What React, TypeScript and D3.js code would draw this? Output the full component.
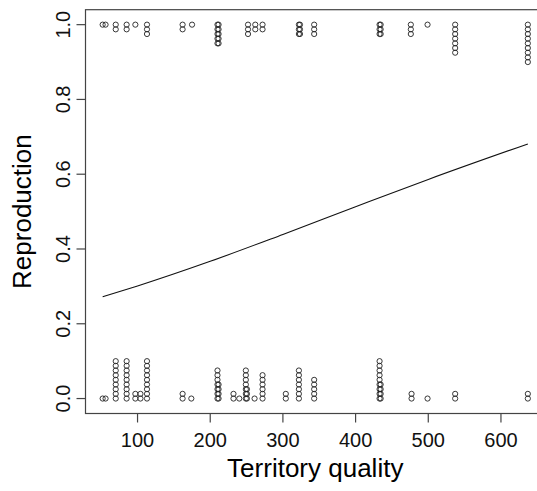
import React from "react";
import * as d3 from "d3";

// Territories where reproduction occurred (y = 1): quality value and number of stacked points
const successQuality = [52, 56, 70, 85, 97, 113, 162, 175, 210, 211.5, 252, 262, 272, 322, 323.5, 343, 433, 434.5, 476, 499, 537, 637];
const successCount = [1, 1, 2, 2, 1, 3, 2, 1, 5, 5, 3, 2, 2, 3, 3, 3, 3, 3, 3, 1, 7, 9];

// Territories without reproduction (y = 0)
const failQuality = [52, 56, 70, 85, 97, 104, 113, 162, 174, 210, 211.5, 232, 240, 249, 250.5, 261, 272, 304, 322, 343, 433, 434.5, 477, 499, 537, 637];
const failCount = [1, 1, 9, 9, 2, 2, 9, 2, 1, 7, 4, 2, 1, 7, 3, 1, 6, 2, 7, 5, 9, 4, 2, 1, 2, 2];

// Fitted curve
const curveX = [52, 100, 200, 300, 400, 500, 637];
const curveY = [0.272, 0.301, 0.367, 0.439, 0.513, 0.586, 0.681];

const xTicks = [100, 200, 300, 400, 500, 600];
const yTicks = [0, 0.2, 0.4, 0.6, 0.8, 1.0];
const stackStep = 0.0125;

export default function App() {
  const W = 537, H = 491;
  const left = 85.5, right = 545, top = 9.7, bottom = 413.5;
  const x = d3.scaleLinear().domain([28.4, 660.6]).range([left, right]);
  const y = d3.scaleLinear().domain([-0.04, 1.04]).range([bottom, top]);

  const pts: { cx: number; cy: number }[] = [];
  successQuality.forEach((q, i) => {
    for (let k = 0; k < successCount[i]; k++) pts.push({ cx: x(q), cy: y(1 - k * stackStep) });
  });
  failQuality.forEach((q, i) => {
    for (let k = 0; k < failCount[i]; k++) pts.push({ cx: x(q), cy: y(0 + k * stackStep) });
  });

  const line = d3
    .line<number>()
    .x((d, i) => x(curveX[i]))
    .y((d) => y(d))
    .curve(d3.curveMonotoneX);

  const font = "Liberation Sans, Arial, sans-serif";
  return (
    <svg width={W} height={H} style={{ position: "absolute", left: 0, top: 0, background: "#fff" }} fontFamily={font}>
      <rect x={0} y={0} width={W} height={H} fill="#fff" />
      <rect x={left} y={top} width={right - left} height={bottom - top} fill="none" stroke="#444" strokeWidth={1.2} />
      {xTicks.map((t) => (
        <g key={"x" + t}>
          <line x1={x(t)} x2={x(t)} y1={bottom} y2={bottom + 9} stroke="#444" strokeWidth={1.2} />
          <text x={x(t)} y={447} textAnchor="middle" fontSize={20} fill="#111">{t}</text>
        </g>
      ))}
      {yTicks.map((t) => (
        <g key={"y" + t}>
          <line x1={left} x2={left - 9} y1={y(t)} y2={y(t)} stroke="#444" strokeWidth={1.2} />
          <text transform={`translate(70,${y(t)}) rotate(-90)`} textAnchor="middle" fontSize={20} fill="#111">{t.toFixed(1)}</text>
        </g>
      ))}
      <text x={(left + right) / 2} y={477} textAnchor="middle" fontSize={26} fill="#000">Territory quality</text>
      <text transform={`translate(31,${(top + bottom) / 2}) rotate(-90)`} textAnchor="middle" fontSize={26} fill="#000">Reproduction</text>
      {pts.map((p, i) => (
        <circle key={i} cx={p.cx} cy={p.cy} r={2.6} fill="none" stroke="#222" strokeWidth={0.9} />
      ))}
      <path d={line(curveY) || ""} fill="none" stroke="#111" strokeWidth={1.1} />
    </svg>
  );
}
